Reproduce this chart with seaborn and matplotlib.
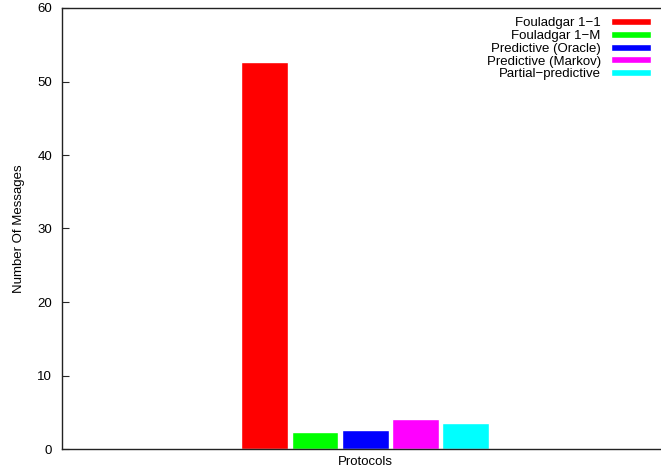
import matplotlib
matplotlib.use("Agg")
import matplotlib.pyplot as plt
import seaborn as sns
import pandas as pd

categories = ["Protocols"]
protocols = ["Fouladgar 1\u22121", "Fouladgar 1\u2212M", "Predictive (Oracle)",
             "Predictive (Markov)", "Partial\u2212predictive"]
values = [52.65, 2.35, 2.6, 4.1, 3.5]
colors = ["#ff0000", "#00ff00", "#0000ff", "#ff00ff", "#00ffff"]
yticks = [0, 10, 20, 30, 40, 50, 60]

sns.set_theme(style="white")
plt.rcParams["font.family"] = ["Liberation Sans", "DejaVu Sans"]
plt.rcParams["font.size"] = 9.5

df = pd.DataFrame({"cat": categories * len(protocols), "protocol": protocols, "value": values})

fig = plt.figure(figsize=(6.61, 4.73), dpi=100)
ax = fig.add_axes([62 / 661, 24 / 473, 1.0 - 62 / 661 + 0.005, (449 - 8) / 473])
sns.barplot(data=df, x="cat", y="value", hue="protocol", hue_order=protocols,
            palette=colors, width=0.8, gap=0.07, saturation=1, ax=ax, errorbar=None)

ax.set_xlim(-0.966, 0.952)
ax.set_ylim(0, 60)
ax.set_yticks(yticks)
ax.set_yticklabels([str(t) for t in yticks], fontsize=9.5, color="black")
ax.tick_params(axis="y", direction="in", length=5, width=0.8, left=True, pad=7)
ax.tick_params(axis="x", length=0, pad=5, labelsize=9.5, labelcolor="black")
ax.set_xlabel("")
ax.set_ylabel("Number Of Messages", fontsize=9.5, color="black", labelpad=9)
for s in ax.spines.values():
    s.set_color("#222222")
    s.set_linewidth(1.0)

handles, labels = ax.get_legend_handles_labels()
leg = ax.legend(handles, labels, loc="upper right", bbox_to_anchor=(0.993, 1.0),
                frameon=False, markerfirst=False, fontsize=9.5,
                handlelength=3.0, handleheight=0.45, labelspacing=0.06,
                handletextpad=0.8, borderaxespad=0.3)
for t in leg.get_texts():
    t.set_color("black")

fig.savefig("out.png", dpi=100)
